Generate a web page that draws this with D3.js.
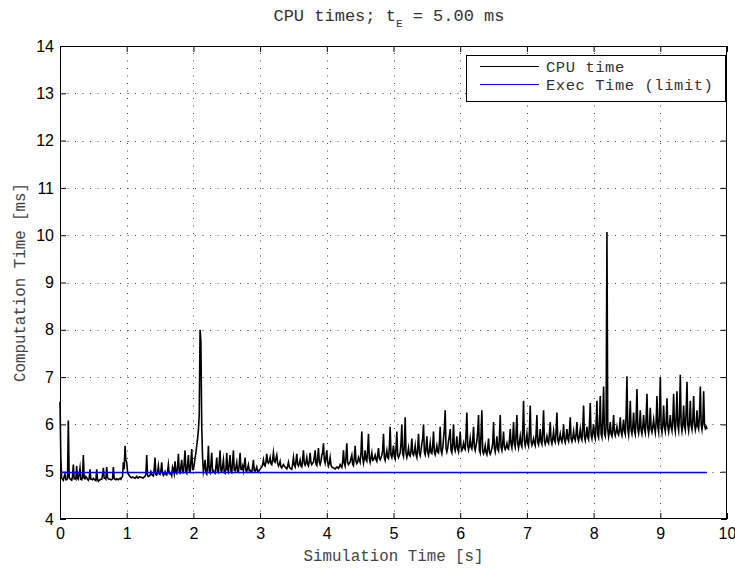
<!DOCTYPE html>
<html>
<head>
<meta charset="utf-8">
<script src="https://cdn.jsdelivr.net/npm/d3@7"></script>
<style>
  html, body { margin: 0; padding: 0; background: #fff; }
  svg { display: block; }
</style>
</head>
<body>
<svg id="chart" width="735" height="570"></svg>
<script>
// ---- data ----
const xTicks = [0, 1, 2, 3, 4, 5, 6, 7, 8, 9, 10];
const yTicks = [4, 5, 6, 7, 8, 9, 10, 11, 12, 13, 14];
const sampleStep = 0.0125;         // s between CPU-time samples
const execLimit = 5.0;             // ms
const execLimitSpan = [0, 9.7];    // s
const seriesNames = ["CPU time", "Exec Time (limit)"];
const cpuTime = [
  6.48, 5.30, 4.86, 4.84, 4.82, 4.90, 4.95, 4.83, 4.83, 4.85, 6.08, 4.88, 4.85, 4.83, 4.82, 4.90, 5.15, 4.85, 4.86, 4.84,
  5.12, 4.86, 4.84, 4.95, 5.08, 4.84, 4.83, 4.88, 5.35, 4.86, 4.85, 4.90, 4.88, 4.84, 4.82, 4.86, 5.05, 4.84, 4.84, 4.83,
  4.86, 4.84, 4.82, 4.81, 5.05, 4.84, 4.80, 4.82, 4.83, 4.84, 4.84, 4.92, 5.08, 4.86, 4.86, 4.84, 5.10, 4.88, 4.85, 4.84,
  4.84, 4.83, 4.83, 4.85, 5.10, 4.86, 4.84, 4.83, 4.85, 4.84, 4.83, 4.85, 4.86, 4.84, 4.88, 4.90, 5.20, 5.05, 5.55, 5.25,
  5.20, 5.00, 4.95, 4.92, 4.90, 4.88, 4.87, 4.89, 4.88, 4.87, 4.86, 4.88, 4.90, 4.87, 4.87, 4.89, 4.89, 4.88, 4.88, 4.87,
  4.87, 4.89, 4.90, 4.95, 5.35, 4.92, 4.90, 4.91, 4.92, 5.00, 4.95, 4.92, 4.91, 5.05, 5.30, 4.94, 4.93, 4.98, 5.12, 4.95,
  4.94, 5.02, 5.20, 4.96, 4.92, 4.95, 5.00, 4.94, 4.93, 5.00, 5.15, 4.96, 4.95, 4.97, 4.92, 5.10, 5.05, 4.96, 5.22, 4.98,
  4.96, 5.10, 5.38, 4.99, 4.97, 5.12, 5.25, 4.98, 4.98, 5.20, 5.45, 5.00, 4.97, 5.15, 5.35, 5.02, 5.00, 5.22, 5.48, 5.05,
  5.05, 5.15, 5.30, 5.40, 5.55, 5.70, 5.88, 6.20, 8.00, 7.75, 5.95, 5.30, 5.00, 5.10, 5.25, 4.98, 4.95, 5.12, 5.55, 5.02,
  4.98, 5.15, 5.40, 5.00, 5.02, 4.99, 4.97, 5.10, 5.30, 5.00, 4.98, 5.20, 5.45, 5.02, 5.00, 5.12, 5.25, 5.00, 4.97, 5.05,
  5.40, 5.05, 5.00, 5.18, 5.35, 5.00, 4.98, 5.20, 5.45, 5.03, 5.02, 5.10, 5.20, 5.00, 4.99, 5.15, 5.40, 5.05, 5.05, 5.12,
  5.02, 5.15, 5.30, 5.02, 5.00, 5.08, 5.15, 5.02, 5.03, 5.00, 4.99, 5.10, 5.25, 5.02, 5.01, 5.05, 5.10, 5.01, 5.00, 5.03,
  5.05, 5.08, 5.10, 5.15, 5.25, 5.14, 5.12, 5.20, 5.38, 5.20, 5.18, 5.22, 5.30, 5.17, 5.15, 5.25, 5.40, 5.22, 5.20, 5.28,
  5.35, 5.18, 5.12, 5.16, 5.22, 5.10, 5.08, 5.12, 5.15, 5.12, 5.10, 5.08, 5.06, 5.12, 5.20, 5.10, 5.08, 5.06, 5.05, 5.15,
  5.30, 5.14, 5.10, 5.22, 5.38, 5.15, 5.12, 5.18, 5.25, 5.12, 5.10, 5.25, 5.45, 5.18, 5.14, 5.20, 5.30, 5.15, 5.12, 5.22,
  5.40, 5.20, 5.15, 5.18, 5.20, 5.30, 5.45, 5.16, 5.13, 5.30, 5.50, 5.20, 5.15, 5.22, 5.35, 5.40, 5.60, 5.25, 5.18, 5.30,
  5.45, 5.20, 5.12, 5.18, 5.30, 5.14, 5.10, 5.09, 5.08, 5.07, 5.06, 5.08, 5.10, 5.09, 5.07, 5.10, 5.15, 5.12, 5.09, 5.20,
  5.45, 5.18, 5.12, 5.30, 5.60, 5.20, 5.15, 5.18, 5.20, 5.28, 5.35, 5.16, 5.13, 5.30, 5.55, 5.22, 5.17, 5.20, 5.30, 5.25,
  5.20, 5.40, 5.85, 5.30, 5.18, 5.28, 5.45, 5.25, 5.22, 5.45, 5.80, 5.28, 5.20, 5.30, 5.40, 5.24, 5.25, 5.30, 5.35, 5.26,
  5.22, 5.35, 5.50, 5.28, 5.25, 5.30, 5.35, 5.45, 5.80, 5.30, 5.24, 5.35, 5.45, 5.30, 5.28, 5.50, 5.95, 5.35, 5.30, 5.40,
  5.55, 5.32, 5.27, 5.50, 5.85, 5.35, 5.30, 5.35, 5.40, 5.60, 6.00, 5.38, 5.32, 5.55, 6.15, 5.40, 5.30, 5.38, 5.50, 5.35,
  5.33, 5.45, 5.70, 5.38, 5.35, 5.42, 5.55, 5.36, 5.30, 5.50, 5.80, 5.40, 5.34, 5.45, 5.60, 5.70, 6.00, 5.42, 5.36, 5.50,
  5.75, 5.42, 5.35, 5.45, 5.60, 5.40, 5.38, 5.55, 5.85, 5.42, 5.36, 5.45, 5.55, 5.42, 5.40, 5.60, 5.95, 5.45, 5.38, 5.50,
  5.70, 5.90, 6.30, 5.50, 5.42, 5.50, 5.65, 5.75, 5.90, 5.45, 5.40, 5.60, 6.00, 5.50, 5.44, 5.55, 5.75, 5.48, 5.42, 5.60,
  5.85, 5.52, 5.45, 5.50, 5.60, 5.50, 5.47, 5.80, 6.25, 5.55, 5.46, 5.55, 5.70, 5.52, 5.48, 5.65, 5.95, 5.52, 5.45, 5.55,
  5.65, 5.85, 6.20, 5.45, 5.40, 5.80, 6.30, 5.42, 5.38, 5.45, 5.55, 5.40, 5.36, 5.50, 5.70, 5.42, 5.37, 5.42, 5.50, 5.60,
  6.05, 5.50, 5.42, 5.55, 5.75, 5.48, 5.44, 5.70, 6.20, 5.52, 5.45, 5.60, 5.85, 5.52, 5.47, 5.52, 5.60, 5.50, 5.48, 5.65,
  5.90, 5.58, 5.50, 5.70, 6.05, 5.58, 5.52, 5.80, 6.20, 5.60, 5.50, 5.62, 5.75, 5.58, 5.53, 5.90, 6.50, 5.65, 5.55, 5.65,
  5.80, 5.60, 5.54, 5.85, 6.40, 5.65, 5.56, 5.62, 5.70, 5.60, 5.55, 5.80, 6.20, 5.62, 5.57, 5.70, 5.90, 5.63, 5.58, 5.85,
  6.30, 5.65, 5.58, 5.65, 5.75, 5.64, 5.60, 5.80, 6.05, 5.66, 5.59, 5.70, 5.85, 5.66, 5.62, 5.85, 6.25, 5.68, 5.61, 5.70,
  5.80, 5.68, 5.63, 5.75, 6.00, 5.68, 5.62, 5.72, 5.90, 5.70, 5.65, 5.85, 6.15, 5.70, 5.64, 5.72, 5.85, 5.70, 5.66, 5.80,
  6.05, 5.72, 5.65, 5.75, 5.90, 5.72, 5.67, 5.95, 6.40, 5.74, 5.66, 5.78, 5.95, 5.73, 5.68, 6.00, 6.45, 5.78, 5.70, 5.85,
  6.00, 5.76, 5.70, 6.00, 6.50, 5.78, 5.72, 6.05, 6.60, 5.80, 5.73, 6.10, 6.80, 5.80, 5.75, 5.95, 10.07, 5.90, 5.74, 5.85,
  6.05, 5.80, 5.75, 5.90, 6.20, 5.82, 5.76, 5.85, 5.95, 5.82, 5.78, 5.90, 6.15, 5.84, 5.77, 5.92, 6.10, 5.85, 5.79, 6.20,
  7.02, 5.90, 5.78, 6.00, 6.50, 5.88, 5.80, 5.95, 6.25, 5.86, 5.79, 6.10, 6.75, 5.90, 5.81, 5.95, 6.30, 5.88, 5.80, 5.95,
  6.20, 5.90, 5.82, 6.10, 6.65, 5.92, 5.81, 5.98, 6.35, 5.90, 5.83, 5.95, 6.10, 5.92, 5.82, 6.05, 6.60, 5.95, 5.84, 6.20,
  7.00, 5.95, 5.83, 6.00, 6.40, 5.94, 5.85, 6.05, 6.55, 5.95, 5.84, 5.98, 6.20, 5.94, 5.86, 6.10, 6.65, 5.96, 5.85, 6.15,
  6.70, 5.98, 5.87, 6.20, 7.05, 6.00, 5.86, 6.00, 6.40, 5.96, 5.88, 6.25, 6.90, 6.00, 5.87, 6.05, 6.50, 5.98, 5.89, 6.10,
  6.60, 6.00, 5.88, 5.98, 6.30, 5.96, 5.90, 6.20, 6.80, 6.00, 5.89, 6.05, 6.70, 5.98, 5.91, 5.95, 5.90
];

// ---- layout ----
const svg = d3.select("#chart");
const L = 60, R = 727, T = 46, B = 519;
const x = d3.scaleLinear().domain([0, 10]).range([L, R]);
const y = d3.scaleLinear().domain([4, 14]).range([B, T]);
const mono = "'Liberation Mono', 'DejaVu Sans Mono', monospace";
const sans = "'Liberation Sans', Arial, sans-serif";

svg.append("rect").attr("x", 0).attr("y", 0).attr("width", 735).attr("height", 570).attr("fill", "#fff");

// grid
const grid = svg.append("g").attr("stroke", "#444").attr("stroke-width", 1)
  .attr("stroke-dasharray", "1,6.5").attr("fill", "none");
grid.selectAll(".gx").data(xTicks.slice(1, -1)).enter().append("line")
  .attr("x1", d => Math.round(x(d)) + 0.5).attr("x2", d => Math.round(x(d)) + 0.5)
  .attr("y1", B).attr("y2", T);
grid.selectAll(".gy").data(yTicks.slice(1, -1)).enter().append("line")
  .attr("y1", d => Math.round(y(d)) + 0.5).attr("y2", d => Math.round(y(d)) + 0.5)
  .attr("x1", L).attr("x2", R);

// axes (inward ticks on all sides)
function styleAxis(g) {
  g.select(".domain").remove();
  g.selectAll(".tick line").attr("stroke", "#000");
  g.selectAll(".tick text").attr("fill", "#000").style("font-family", sans).style("font-size", "16px");
}
svg.append("g").attr("transform", `translate(0,${B})`)
  .call(d3.axisBottom(x).tickValues(xTicks).tickSizeInner(-6).tickSizeOuter(0).tickPadding(9).tickFormat(d3.format("d")))
  .call(styleAxis);
svg.append("g").attr("transform", `translate(0,${T})`)
  .call(d3.axisTop(x).tickValues(xTicks).tickSizeInner(-6).tickSizeOuter(0).tickFormat(""))
  .call(styleAxis);
svg.append("g").attr("transform", `translate(${L},0)`)
  .call(d3.axisLeft(y).tickValues(yTicks).tickSizeInner(-6).tickSizeOuter(0).tickPadding(6).tickFormat(d3.format("d")))
  .call(styleAxis);
svg.append("g").attr("transform", `translate(${R},0)`)
  .call(d3.axisRight(y).tickValues(yTicks).tickSizeInner(-6).tickSizeOuter(0).tickFormat(""))
  .call(styleAxis);

// lines (CPU time first, limit drawn on top)
const cpuPts = cpuTime.map((v, i) => [i * sampleStep, v]);
const lineGen = d3.line().x(d => x(d[0])).y(d => y(d[1]));
svg.append("path").datum(cpuPts)
  .attr("d", lineGen).attr("fill", "none").attr("stroke", "#000").attr("stroke-width", 1.6)
  .attr("stroke-linejoin", "miter").attr("stroke-miterlimit", 10);
const limitY = Math.round(y(execLimit)) + 0.5;
svg.append("path").datum(execLimitSpan.map(t => [t, execLimit]))
  .attr("d", d3.line().x(d => x(d[0])).y(() => limitY))
  .attr("fill", "none").attr("stroke", "#0000ff").attr("stroke-width", 1.4);

// box
svg.append("rect").attr("x", L + 0.5).attr("y", T + 0.5).attr("width", R - L - 1).attr("height", B - T - 1)
  .attr("fill", "none").attr("stroke", "#000").attr("stroke-width", 1);

// legend
const lg = svg.append("g");
lg.append("rect").attr("x", 466.5).attr("y", 55.5).attr("width", 259).attr("height", 46)
  .attr("fill", "#fff").attr("stroke", "#000").attr("stroke-width", 1);
const legendColors = ["#000", "#0000ff"];
seriesNames.forEach((name, i) => {
  const ly = 66.5 + i * 18;
  lg.append("line").attr("x1", 480).attr("x2", 539).attr("y1", ly).attr("y2", ly)
    .attr("stroke", legendColors[i]).attr("stroke-width", 1);
  lg.append("text").attr("x", 546).attr("y", ly + 5).text(name)
    .style("font-family", mono).style("font-size", "15.5px").style("letter-spacing", "0.55px")
    .attr("fill", "#333");
});

// title
const title = svg.append("text").attr("x", 389).attr("y", 21).attr("text-anchor", "middle")
  .style("font-family", mono).style("font-size", "17px").attr("fill", "#333");
title.append("tspan").text("CPU times; t");
title.append("tspan").attr("dy", 6).style("font-size", "11px").text("E");
title.append("tspan").attr("dy", -6).text(" = 5.00 ms");

// axis labels
svg.append("text").attr("x", (L + R) / 2).attr("y", 561).attr("text-anchor", "middle")
  .style("font-family", mono).style("font-size", "15.8px").attr("fill", "#444")
  .text("Simulation Time [s]");
svg.append("text").attr("transform", `translate(25,${(T + B) / 2}) rotate(-90)`).attr("text-anchor", "middle")
  .style("font-family", mono).style("font-size", "15.8px").attr("fill", "#444")
  .text("Computation Time [ms]");
</script>
</body>
</html>
